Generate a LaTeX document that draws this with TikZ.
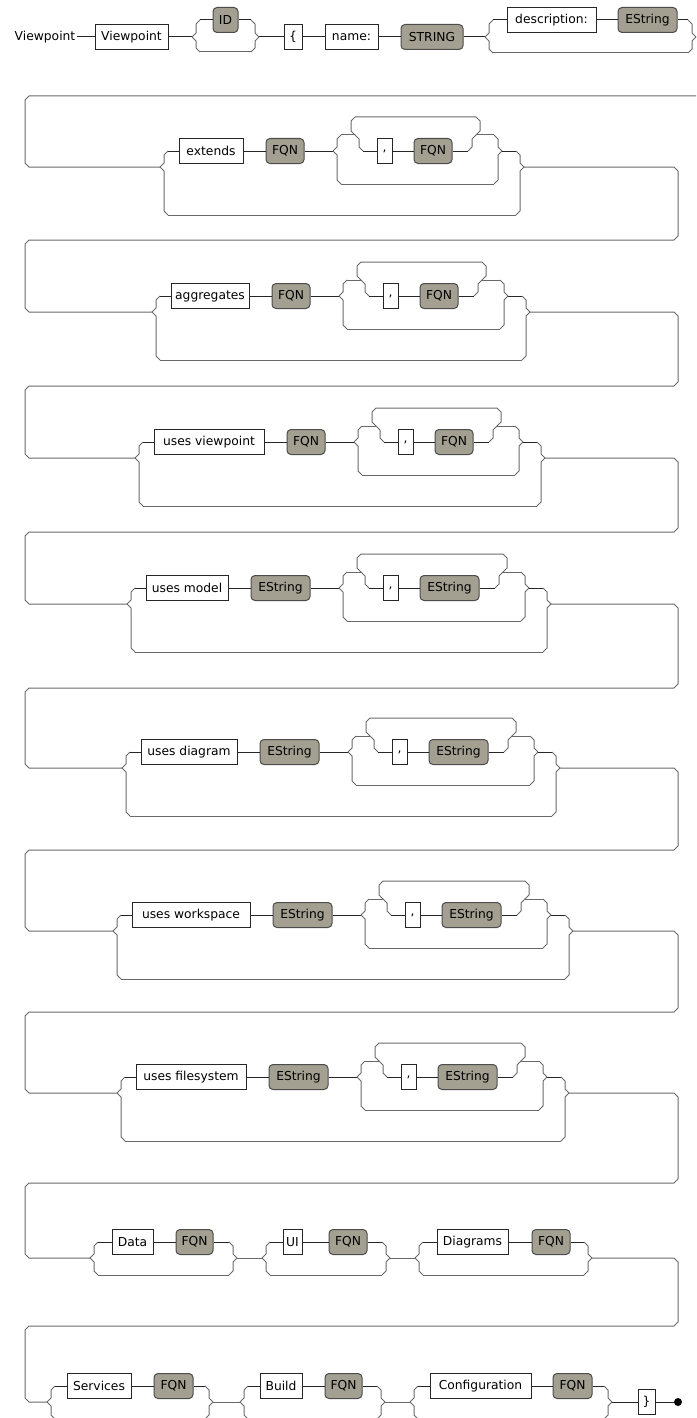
\documentclass[tikz,border=0pt]{standalone}
\usepackage{fontspec}
\setmainfont{DejaVu Sans}
\definecolor{ntfill}{RGB}{163,159,145}
\definecolor{railc}{RGB}{105,105,105}
\newcommand\fs{\fontsize{12.3}{14}\selectfont}
\tikzset{
  rail/.style={draw=railc, line width=1pt},
  conn/.style={draw=black!85, line width=1pt},
  kw/.style={draw=black!85, fill=white, line width=1pt, minimum height=25pt, inner sep=0pt, font=\fs},
  nt/.style={draw=black!70, fill=ntfill, rounded corners=4pt, line width=1pt, minimum height=25pt, inner sep=0pt, font=\fs},
  plain/.style={font=\fs, inner sep=2pt}
}
% split from main point (x,ym) to branch line y
\newcommand\splitto[3]{%
  \pgfmathsetmacro\qDD{(#3<#2)?-4:4}%
  \draw[rail] (#1,#2) -- ({#1+4},{#2+\qDD}) -- ({#1+4},{#3-\qDD}) -- ({#1+8},#3);}
% merge into main point (x,ym) from branch line y
\newcommand\mergefrom[3]{%
  \pgfmathsetmacro\qDD{(#3<#2)?-4:4}%
  \draw[rail] (#1,#2) -- ({#1-4},{#2+\qDD}) -- ({#1-4},{#3-\qDD}) -- ({#1-8},#3);}
% keyword row: prefix, yk, S, kw text, kw width, item text, item width
\newcommand\kwrow[7]{%
  \pgfmathsetmacro\qYM{#2+16}%
  \pgfmathsetmacro\qYE{#2-16}%
  \pgfmathsetmacro\qYT{#2-34}%
  \pgfmathsetmacro\qYB{#2+33}%
  \pgfmathsetmacro\qYO{#2+64}%
  \pgfmathsetmacro\qKC{#3+19+#5/2}%
  \pgfmathsetmacro\qKR{#3+19+#5}%
  \pgfmathsetmacro\qIC{\qKR+23+#7/2}%
  \pgfmathsetmacro\qIR{\qKR+23+#7}%
  \pgfmathsetmacro\qSI{\qIR+29}%
  \pgfmathsetmacro\qJA{\qSI+22}%
  \pgfmathsetmacro\qCC{\qJA+29.5}%
  \pgfmathsetmacro\qCR{\qJA+37}%
  \pgfmathsetmacro\qJC{\qCR+22+#7/2}%
  \pgfmathsetmacro\qJR{\qCR+22+#7}%
  \pgfmathsetmacro\qJB{\qJR+24}%
  \pgfmathsetmacro\qMI{\qJB+26}%
  \pgfmathsetmacro\qMO{\qMI+22}%
  \node[kw, minimum width=#5pt] (#1kw) at (\qKC,#2) {#4};
  \node[nt, minimum width=#7pt] (#1a) at (\qIC,#2) {#6};
  \node[kw, minimum width=15pt] (#1c) at (\qCC,#2) {,};
  \node[nt, minimum width=#7pt] (#1b) at (\qJC,#2) {#6};
  \coordinate (#1S) at (#3,\qYM);
  \coordinate (#1M) at (\qMO,\qYM);
  % outer option
  \splitto{#3}{\qYM}{#2}
  \draw[conn] ({#3+8},#2) -- (#1kw);
  \draw[conn] (#1kw) -- (#1a);
  \splitto{#3}{\qYM}{\qYO}
  \draw[rail] ({#3+8},\qYO) -- ({\qMO-8},\qYO);
  \mergefrom{\qMO}{\qYM}{\qYO}
  % inner option
  \draw[conn] (#1a) -- (\qSI,#2);
  \splitto{\qSI}{#2}{\qYE}
  \draw[rail] ({\qSI+8},\qYE) -- (\qJA,\qYE);
  \splitto{\qSI}{#2}{\qYB}
  \draw[rail] ({\qSI+8},\qYB) -- ({\qMI-8},\qYB);
  \mergefrom{\qMI}{#2}{\qYB}
  % loop
  \splitto{\qJA}{\qYE}{#2}
  \draw[conn] ({\qJA+8},#2) -- (#1c);
  \draw[conn] (#1c) -- (#1b);
  \draw[conn] (#1b) -- ({\qJB-8},#2);
  \mergefrom{\qJB}{\qYE}{#2}
  \draw[rail] (\qJB,\qYE) -- ({\qJB+4},{\qYE-4}) -- ({\qJB+4},{\qYT+4}) -- (\qJB,\qYT)
     -- (\qJA,\qYT) -- ({\qJA-4},{\qYT+4}) -- ({\qJA-4},{\qYE-4}) -- (\qJA,\qYE);
  \draw[rail] (\qJB,\qYE) -- ({\qMI-8},\qYE);
  \mergefrom{\qMI}{#2}{\qYE}
  \draw[conn] (\qMI,#2) -- ({\qMO-8},#2);
  \mergefrom{\qMO}{\qYM}{#2}
}
% wrap from current row end to next row start: B, next S, next ym
\newcommand\wrapto[3]{%
  \draw[rail] (\qMO,\qYM) -- (674,\qYM) -- (678,{\qYM+4}) -- (678,{#1-4}) -- (674,#1)
    -- (29,#1) -- (25,{#1+4}) -- (25,{#3-4}) -- (29,#3) -- (#2,#3);}
% optional group: prefix, ym, S, kw text, kwL, kwR, ntL, ntR, M
\newcommand\grp[9]{%
  \pgfmathsetmacro\qGK{#2-16}%
  \pgfmathsetmacro\qGL{#2+17}%
  \node[kw, minimum width={#6-#5}] (#1kw) at ({(#5+#6)/2},\qGK) {#4};
  \node[nt, minimum width={#8-#7}] (#1nt) at ({(#7+#8)/2},\qGK) {FQN};
  \coordinate (#1S) at (#3,#2);
  \coordinate (#1M) at (#9,#2);
  \splitto{#3}{#2}{\qGK}
  \draw[conn] ({#3+8},\qGK) -- (#1kw);
  \draw[conn] (#1kw) -- (#1nt);
  \draw[conn] (#1nt) -- ({#9-8},\qGK);
  \mergefrom{#9}{#2}{\qGK}
  \splitto{#3}{#2}{\qGL}
  \draw[rail] ({#3+8},\qGL) -- ({#9-8},\qGL);
  \mergefrom{#9}{#2}{\qGL}
}
\begin{document}
\begin{tikzpicture}[x=1pt, y=-1pt]
\path[use as bounding box] (0,0) rectangle (696,1418);
\fill[white] (0,0) rectangle (696,1418);
\begin{scope}
\clip (0,0) rectangle (696,1418);
% ---- row 0 ----
\node[plain] (title) at (45,37) {Viewpoint};
\node[kw, minimum width=73pt] (vp) at (131.5,37) {Viewpoint};
\draw[conn] (title) -- (vp);
\draw[conn] (vp) -- (192,37);
\splitto{192}{37}{20}
\node[nt, minimum width=25pt] (id) at (225.5,20) {ID};
\draw[conn] (200,20) -- (id);
\draw[conn] (id) -- (251,20);
\mergefrom{259}{37}{20}
\splitto{192}{37}{52}
\draw[rail] (200,52) -- (251,52);
\mergefrom{259}{37}{52}
\node[kw, minimum width=18pt] (lb) at (293,37) {\{};
\draw[conn] (259,37) -- (lb);
\node[kw, minimum width=53pt] (name) at (351.5,37) {name:};
\draw[conn] (lb) -- (name);
\node[nt, minimum width=62pt] (str) at (432,37) {STRING};
\draw[conn] (name) -- (str);
\draw[conn] (str) -- (485,37);
\splitto{485}{37}{20}
\node[kw, minimum width=89pt] (desc) at (551.5,20) {description:};
\node[nt, minimum width=59pt] (dstr) at (647.5,20) {EString};
\draw[conn] (493,20) -- (desc);
\draw[conn] (desc) -- (dstr);
\draw[conn] (dstr) -- (688,20);
\mergefrom{696}{37}{20}
\splitto{485}{37}{53}
\draw[rail] (493,53) -- (688,53);
\mergefrom{696}{37}{53}
\draw[rail] (696,37) -- (720,37) -- (724,41) -- (724,92) -- (720,96) -- (29,96)
  -- (25,100) -- (25,163) -- (29,167) -- (160,167);
% ---- keyword rows ----
\kwrow{ra}{151}{160}{extends}{64}{FQN}{38}
\wrapto{240}{152}{312}
\kwrow{rb}{296}{152}{aggregates}{78}{FQN}{38}
\wrapto{386}{135}{458}
\kwrow{rc}{442}{135}{uses viewpoint}{110}{FQN}{38}
\wrapto{532}{127}{604}
\kwrow{rd}{588}{127}{uses model}{82}{EString}{59}
\wrapto{688}{122}{768}
\kwrow{re}{752}{122}{uses diagram}{96}{EString}{59}
\wrapto{850}{113}{931}
\kwrow{rf}{915}{113}{uses workspace}{118}{EString}{59}
\wrapto{1012}{117}{1093}
\kwrow{rg}{1077}{117}{uses filesystem}{110}{EString}{59}
\wrapto{1183}{90}{1258}
% ---- Data / UI / Diagrams ----
\grp{da}{1258}{90}{Data}{112}{153}{176}{213}{237}
\draw[rail] (daM) -- (262,1258);
\grp{ui}{1258}{262}{UI}{283}{302}{329}{367}{390}
\draw[rail] (uiM) -- (415,1258);
\grp{dg}{1258}{415}{Diagrams}{437}{508}{532}{570}{592}
\draw[rail] (dgM) -- (674,1258) -- (678,1262) -- (678,1322) -- (674,1326) -- (29,1326)
  -- (25,1330) -- (25,1398) -- (29,1402) -- (47,1402);
% ---- Services / Build / Configuration ----
\grp{sv}{1402}{47}{Services}{67}{131}{154}{193}{213}
\draw[rail] (svM) -- (240,1402);
\grp{bd}{1402}{240}{Build}{260}{302}{325}{362}{385}
\draw[rail] (bdM) -- (410,1402);
\grp{cf}{1402}{410}{Configuration}{430}{531}{553}{592}{612}
\node[kw, minimum width=17pt] (rb2) at (646.5,1402) {\}};
\draw[conn] (cfM) -- (rb2);
\node[circle, fill=black, inner sep=0pt, minimum size=8pt] (end) at (678,1402) {};
\draw[conn] (rb2) -- (end);
\end{scope}
\end{tikzpicture}
\end{document}
